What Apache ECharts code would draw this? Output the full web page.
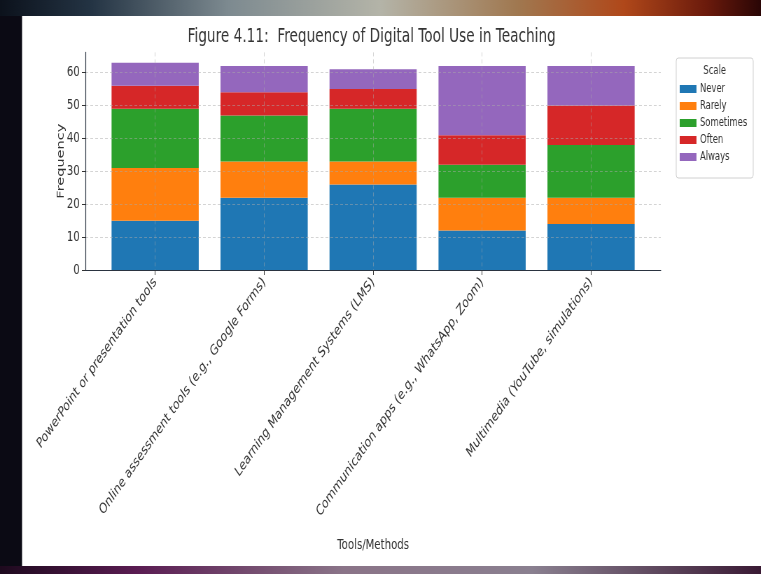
<!DOCTYPE html>
<html><head><meta charset="utf-8">
<script src="https://cdn.jsdelivr.net/npm/echarts@6/dist/echarts.min.js"></script>
<style>
html,body{margin:0;padding:0;overflow:hidden;background:#0a0a12;width:761px;height:574px}
#wrap{width:761px;height:574px;overflow:hidden;position:relative}
#chart{width:1087px;height:574px;transform:scaleX(0.7);transform-origin:0 0;position:absolute;left:0;top:0}
</style>
</head><body><div id="wrap"><div id="chart"></div></div>
<script>
// ---- data ----
const categories = [
  'PowerPoint or presentation tools',
  'Online assessment tools (e.g., Google Forms)',
  'Learning Management Systems (LMS)',
  'Communication apps (e.g., WhatsApp, Zoom)',
  'Multimedia (YouTube, simulations)'
];
const scaleLevels = ['Never', 'Rarely', 'Sometimes', 'Often', 'Always'];
const never     = [15, 22, 26, 12, 14];
const rarely    = [16, 11,  7, 10,  8];
const sometimes = [18, 14, 16, 10, 16];
const often     = [ 7,  7,  6,  9, 12];
const always    = [ 7,  8,  6, 21, 12];
const yTicks = [0, 10, 20, 30, 40, 50, 60];
const titleText = 'Figure 4.11:  Frequency of Digital Tool Use in Teaching';
const xTitle = 'Tools/Methods';
const yTitle = 'Frequency';
const legendTitle = 'Scale';

// ---- chart ----
const colors = ['#1f77b4', '#ff7f0e', '#2ca02c', '#d62728', '#9467bd'];
const seriesValues = [never, rarely, sometimes, often, always];
const catIdx = categories.map((c, i) => i);
const totals = catIdx.map(i => seriesValues.reduce((s, arr) => s + arr[i], 0));
const yMax = Math.max(...totals) * 1.05;
const FONT = 'DejaVu Sans';
const W = 1087, H = 574;
// axes frame (matplotlib-like margins) and the band area that holds the bars
const AX_L = 122, AX_R = 944, AX_T = 52.4, AX_B = 270;
const pad = 0.64;                         // x-limits: -0.64 .. n-1+0.64
const unit = (AX_R - AX_L) / (categories.length - 1 + 2 * pad);
const BAND_L = AX_L + (pad - 0.5) * unit, BAND_R = AX_R - (pad - 0.5) * unit;

const chart = echarts.init(document.getElementById('chart'), null, {renderer: 'canvas', width: W, height: H});

const gridLine = {show: true, lineStyle: {color: 'rgba(170,170,170,0.5)', type: [4, 3], width: 1}};
const txt = {fontFamily: FONT, fontSize: 14.5, color: '#333'};

chart.setOption({
  animation: false,
  textStyle: {fontFamily: FONT},
  graphic: [
    {type: 'rect', z: -20, shape: {x: 0, y: 0, width: W, height: H}, style: {fill: '#0b0a14'}},
    {type: 'rect', z: -19, shape: {x: 0, y: 0, width: W, height: 16},
      style: {fill: new echarts.graphic.LinearGradient(0, 0, 1, 0, [
        {offset: 0, color: '#0c121c'}, {offset: 0.12, color: '#243444'},
        {offset: 0.3, color: '#7d8a90'}, {offset: 0.5, color: '#b4b4a8'},
        {offset: 0.68, color: '#a07850'}, {offset: 0.82, color: '#b0481a'},
        {offset: 0.93, color: '#6a1a0c'}, {offset: 1, color: '#2a0606'}])}},
    {type: 'rect', z: -19, shape: {x: 0, y: 566, width: W, height: 8},
      style: {fill: new echarts.graphic.LinearGradient(0, 0, 1, 0, [
        {offset: 0, color: '#1e0a1e'}, {offset: 0.18, color: '#5a1c52'},
        {offset: 0.45, color: '#8a7488'}, {offset: 0.7, color: '#8a8090'},
        {offset: 1, color: '#3a1a34'}])}},
    {type: 'rect', z: -18, shape: {x: 31.5, y: 16, width: W - 31.5, height: 550}, style: {fill: '#ffffff'}},
    {type: 'text', z: 5, x: 531, y: 37,
      style: {text: titleText, fontFamily: FONT, fontSize: 19.5, fill: '#333', align: 'center', verticalAlign: 'middle'}},
    {type: 'rect', z: 4, shape: {x: 966, y: 58, width: 110, height: 120, r: 3},
      style: {fill: 'rgba(255,255,255,0.85)', stroke: '#d0d0d0', lineWidth: 1}},
    {type: 'text', z: 5, x: 1021, y: 71,
      style: {text: legendTitle, fontFamily: FONT, fontSize: 12, fill: '#333', align: 'center', verticalAlign: 'middle'}}
  ],
  legend: {
    data: scaleLevels,
    orient: 'vertical',
    left: 966, top: 58,
    padding: [25, 5, 5, 5],
    itemWidth: 24, itemHeight: 8, itemGap: 5,
    icon: 'rect',
    z: 6,
    textStyle: {fontFamily: FONT, fontSize: 12, color: '#333'},
    selectedMode: false
  },
  grid: [
    {left: BAND_L, right: W - BAND_R, top: AX_T, bottom: H - AX_B, containLabel: false},
    {left: AX_L, right: W - AX_R, top: AX_T, bottom: H - AX_B, containLabel: false}
  ],
  xAxis: [
    {
      type: 'category', gridIndex: 0, data: categories, boundaryGap: true, z: 3,
      axisLine: {show: false},
      axisTick: {show: true, alignWithLabel: true, length: 5, lineStyle: {color: '#333'}},
      axisLabel: Object.assign({interval: 0, rotate: 45, margin: 10}, txt),
      splitLine: {show: false}
    },
    {
      type: 'value', gridIndex: 1, min: -pad, max: categories.length - 1 + pad, z: 3,
      name: xTitle, nameLocation: 'middle', nameGap: 268, nameMoveOverlap: false, nameTextStyle: txt,
      axisLine: {show: true, onZero: false, lineStyle: {color: '#2a3340', width: 1.2}},
      axisTick: {show: false, customValues: catIdx},
      axisLabel: {show: false, customValues: catIdx},
      splitLine: gridLine
    }
  ],
  yAxis: [
    {type: 'value', gridIndex: 0, min: 0, max: yMax, show: false, splitLine: {show: false}},
    {
      type: 'value', gridIndex: 1, min: 0, max: yMax, z: 3,
      name: yTitle, nameLocation: 'middle', nameGap: 27, nameMoveOverlap: false, nameTextStyle: txt,
      axisLine: {show: true, onZero: false, lineStyle: {color: '#2a3340', width: 1.2}},
      axisTick: {show: true, length: 5, customValues: yTicks, lineStyle: {color: '#333'}},
      axisLabel: Object.assign({customValues: yTicks, margin: 8}, txt),
      splitLine: gridLine
    }
  ],
  series: scaleLevels.map((name, k) => ({
    name, type: 'bar', stack: 'total', barWidth: '80%',
    xAxisIndex: 0, yAxisIndex: 0,
    itemStyle: {color: colors[k]},
    data: seriesValues[k]
  }))
});
</script></body></html>
